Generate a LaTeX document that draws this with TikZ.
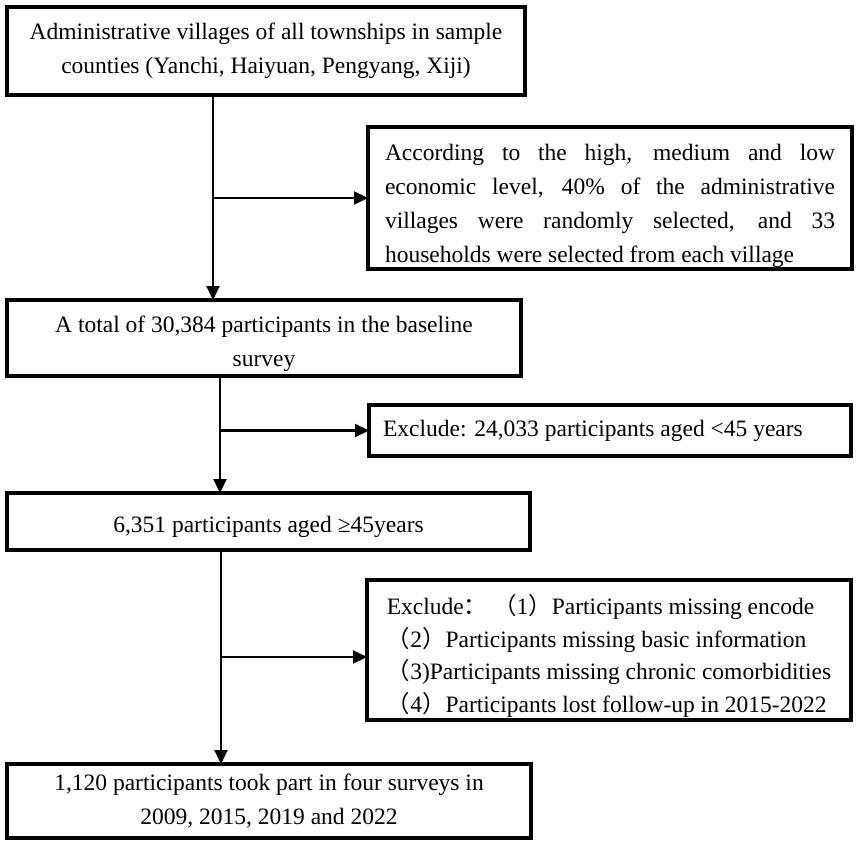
\documentclass[tikz,border=0pt]{standalone}
\usepackage{fontspec}
\setmainfont{Liberation Serif}
\newfontfamily\cjk{Noto Sans CJK SC}
\usepackage{tikz}
\usetikzlibrary{positioning,calc,arrows.meta}
\newcommand{\boxfont}{\fontsize{11.75pt}{17pt}\selectfont}
\newcommand{\listfont}{\fontsize{11.75pt}{16.4pt}\selectfont}
\newcommand{\lpar}{{\cjk （}}
\newcommand{\rpar}{{\cjk ）}}
\newcommand{\fcolon}{{\cjk ：}}
\newcommand{\topgap}[1]{\rule{0pt}{#1}}
\tikzset{
    flow box/.style={
        rectangle,
        draw=black,
        line width=2pt,
        anchor=north west,
        inner sep=0pt,
        outer sep=0pt,
        font=\boxfont,
    },
    flow center/.style={flow box, align=center},
    flow left/.style={flow box, align=flush left, text width=#1},
    flow list/.style={flow box, align=flush left, font=\listfont},
    flow justify/.style={flow box, align=justify, text width=#1},
    flow arrow/.style={-{Triangle[length=7pt,width=6.5pt]}, line width=1.1pt}
}

\begin{document}
\begin{tikzpicture}[x=0.5pt,y=-0.5pt]
    \useasboundingbox (0,0) rectangle (858,846);

    %Boxes of the main column and the exclusion boxes (sizes in pt, positions in px)
    \node[flow center, minimum width=259pt, minimum height=44pt] (villages-box) at (7,7)
        {Administrative villages of all townships in sample\\counties (Yanchi, Haiyuan, Pengyang, Xiji)};
    \node[flow justify=225pt, minimum width=242pt, minimum height=71pt] (sampling-box) at (368,127)
        {\topgap{16pt}According to the high, medium and low\linebreak economic level, 40\% of the administrative\linebreak villages were randomly selected, and 33\linebreak households were selected from each village};
    \node[flow center, minimum width=257pt, minimum height=38pt] (baseline-box) at (7,300)
        {\topgap{14pt}A total of 30,384 participants in the baseline\\survey};
    \node[flow left=227pt, minimum width=241pt, minimum height=25.5pt] (young-box) at (369,405)
        {Exclude: 24,033 participants aged <45 years};
    \node[flow center, minimum width=261.5pt, minimum height=28.5pt] (aged-box) at (7,493)
        {\topgap{14pt}6,351 participants aged ≥45years};
    \node[flow list, minimum width=242pt, minimum height=70pt] (missing-box) at (367,580)
        {\topgap{16pt}Exclude\fcolon\ \lpar 1\rpar Participants missing encode\\
         \lpar 2\rpar Participants missing basic information\\
         \lpar 3)Participants missing chronic comorbidities\\
         \lpar 4\rpar Participants lost follow-up in 2015-2022};
    \node[flow center, minimum width=262pt, minimum height=37pt] (final-box) at (7,764)
        {1,120 participants took part in four surveys in\\2009, 2015, 2019 and 2022};

    %Trunk positions of the vertical arrows
    \coordinate (trunk-a) at (213,198);
    \coordinate (trunk-b) at (220,431);
    \coordinate (trunk-c) at (221,657);

    \draw[flow arrow] (villages-box.south -| trunk-a) -- (baseline-box.north -| trunk-a);
    \draw[flow arrow] (sampling-box.west -| trunk-a) -- (sampling-box.west);

    \draw[flow arrow] (baseline-box.south -| trunk-b) -- (aged-box.north -| trunk-b);
    \draw[flow arrow] (young-box.west -| trunk-b) -- (young-box.west);

    \draw[flow arrow] (aged-box.south -| trunk-c) -- (final-box.north -| trunk-c);
    \draw[flow arrow] (trunk-c) -- (trunk-c -| missing-box.west);
\end{tikzpicture}
\end{document}
